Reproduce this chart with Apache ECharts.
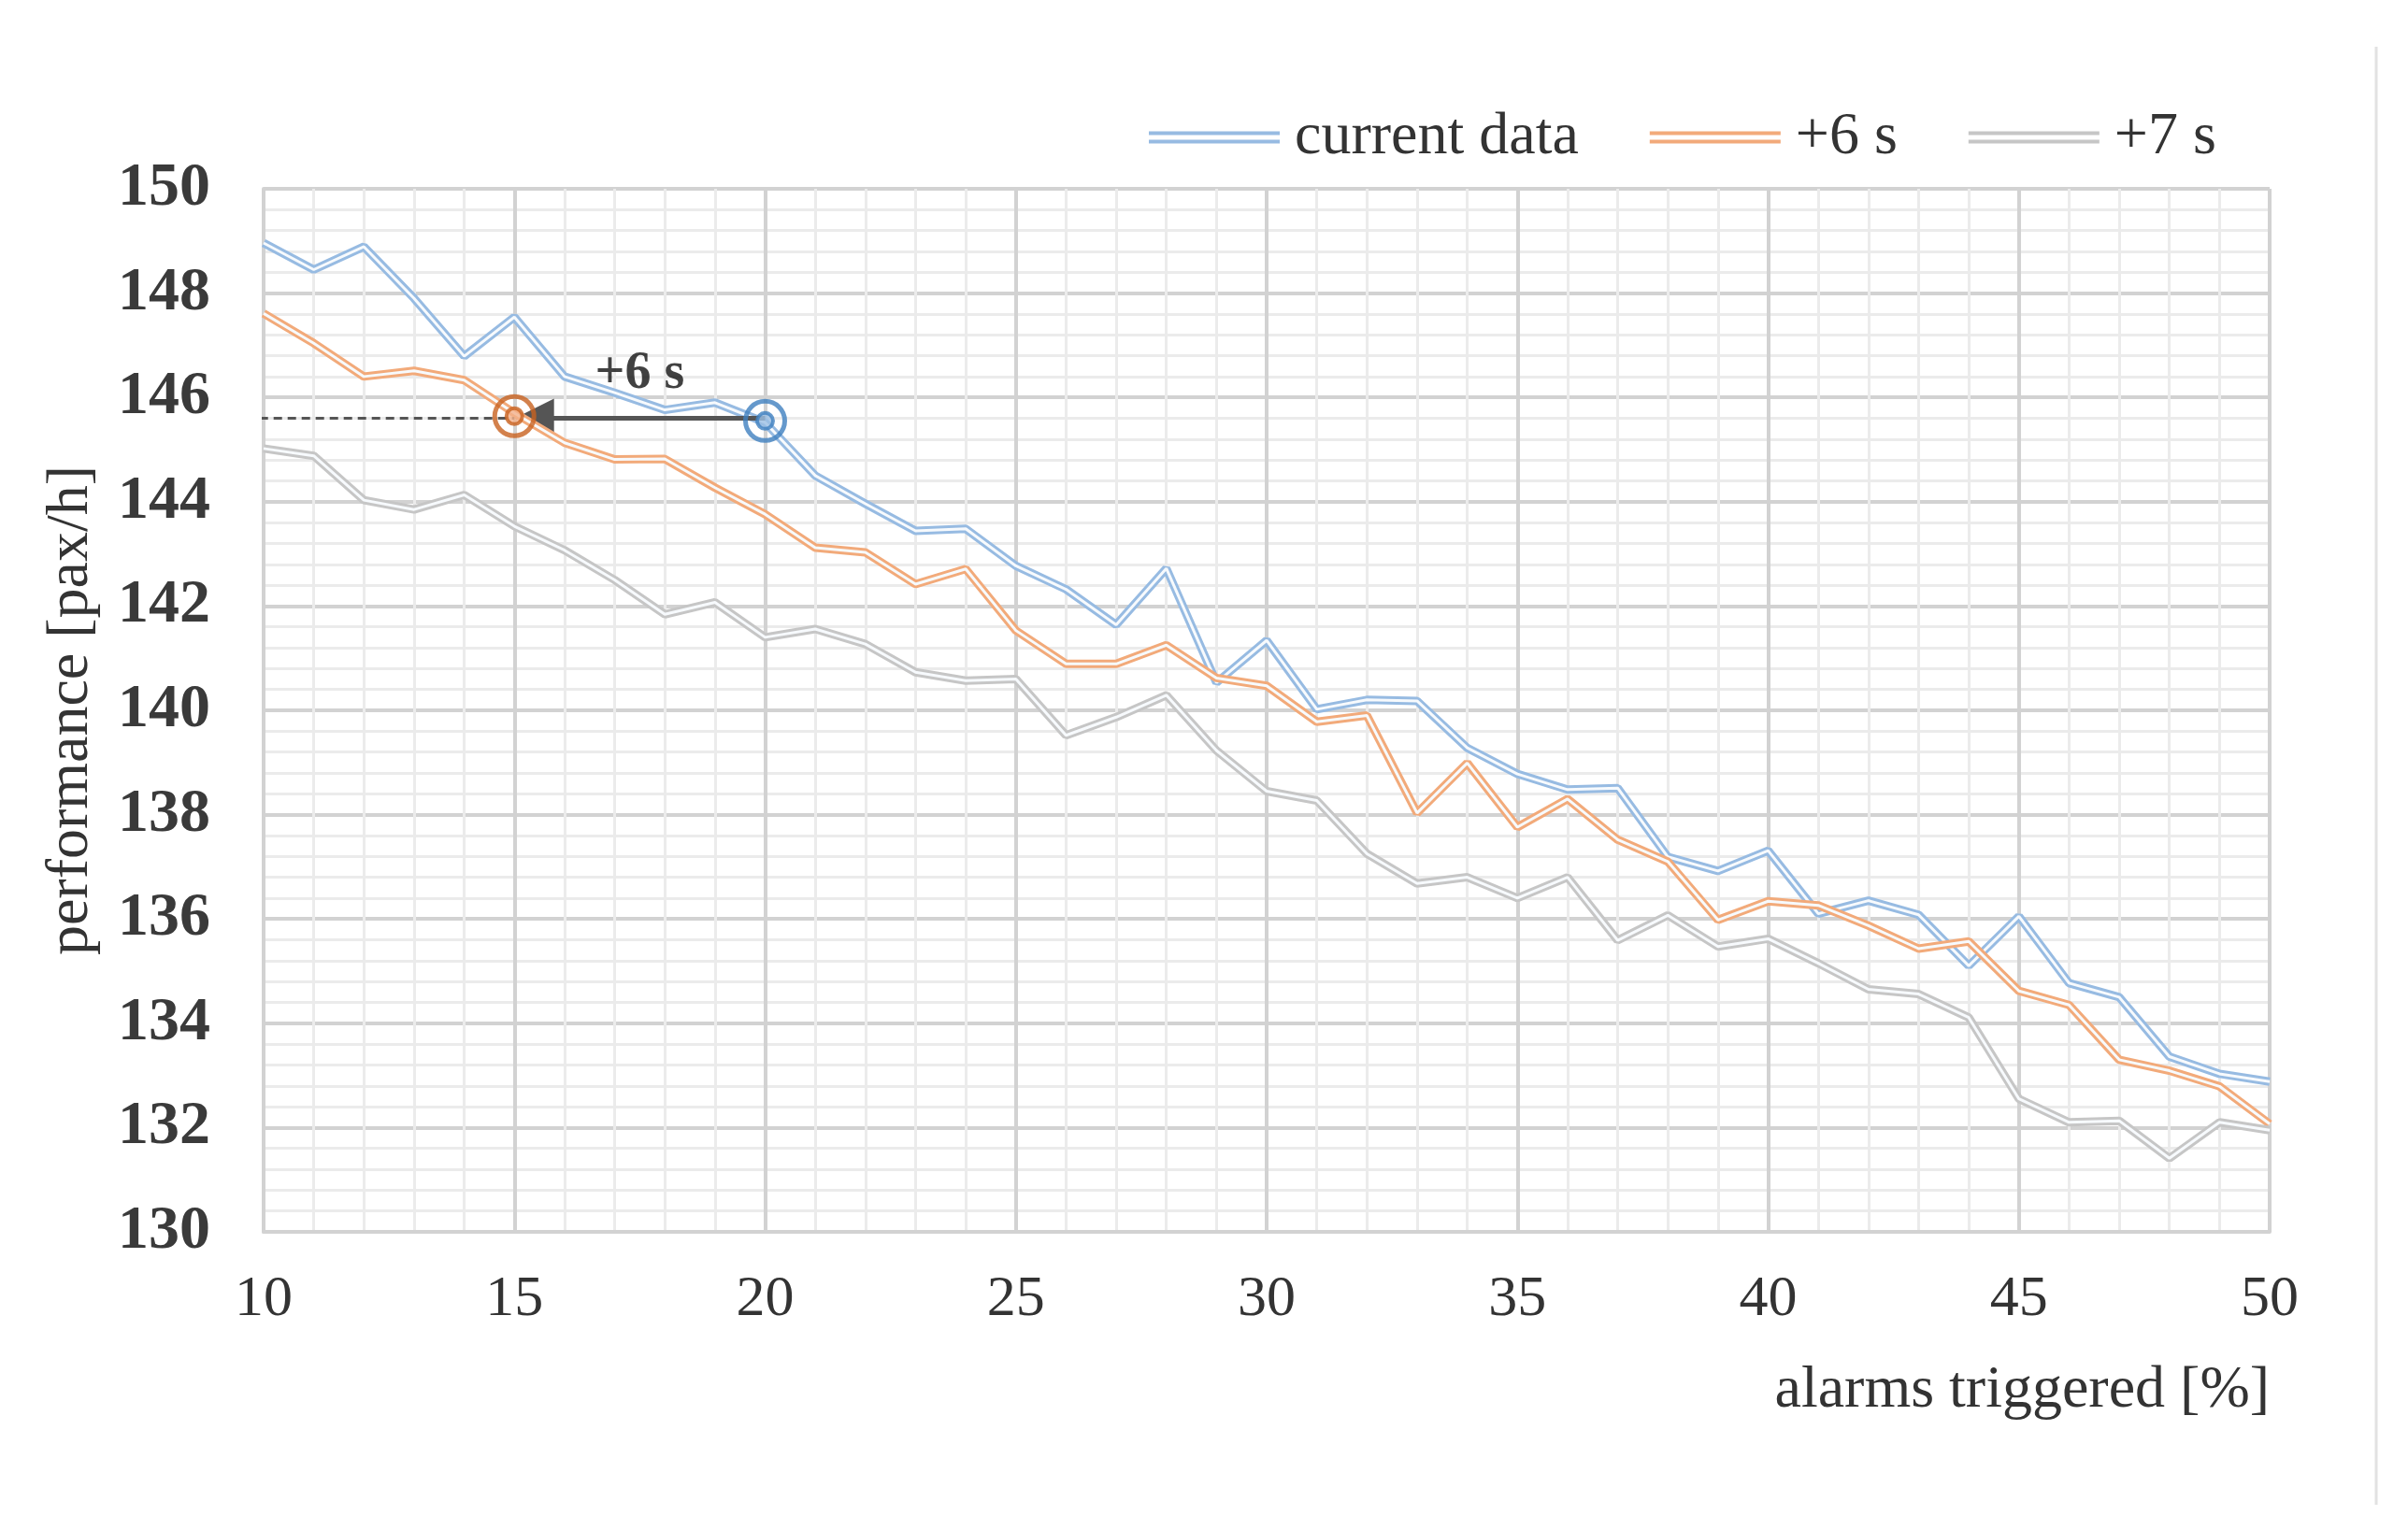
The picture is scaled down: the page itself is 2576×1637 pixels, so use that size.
<!DOCTYPE html>
<html><head><meta charset="utf-8">
<script src="https://cdn.jsdelivr.net/npm/echarts@6/dist/echarts.min.js"></script>
<style>html,body{margin:0;padding:0;background:#fff}#c{width:2576px;height:1637px}</style>
</head><body><div id="c"></div>
<script>
const alarms = [10,11,12,13,14,15,16,17,18,19,20,21,22,23,24,25,26,27,28,29,30,31,32,33,34,35,36,37,38,39,40,41,42,43,44,45,46,47,48,49,50];
const currentData = [148.96,148.45,148.89,147.9,146.79,147.54,146.40,146.09,145.76,145.90,145.52,144.50,143.96,143.44,143.48,142.77,142.32,141.64,142.72,140.53,141.34,140.02,140.20,140.18,139.28,138.78,138.48,138.51,137.19,136.92,137.31,136.10,136.35,136.08,135.10,136.05,134.77,134.50,133.36,133.03,132.88];
const plus6s = [147.61,147.04,146.40,146.51,146.33,145.70,145.13,144.81,144.82,144.27,143.76,143.12,143.03,142.42,142.71,141.53,140.89,140.89,141.25,140.62,140.47,139.78,139.90,138.03,138.99,137.76,138.30,137.52,137.10,135.98,136.34,136.26,135.87,135.43,135.57,134.62,134.35,133.30,133.09,132.79,132.07];
const plus7s = [145.02,144.88,144.03,143.85,144.13,143.53,143.07,142.50,141.84,142.07,141.40,141.56,141.27,140.73,140.57,140.60,139.52,139.87,140.29,139.23,138.45,138.27,137.25,136.68,136.80,136.40,136.80,135.59,136.07,135.47,135.62,135.15,134.65,134.56,134.11,132.55,132.10,132.13,131.41,132.10,131.95];
const seriesNames = ['current data', '+6 s', '+7 s'];
const yTicks = {min: 130, max: 150, step: 2};
const xTicks = {min: 10, max: 50, step: 5};
// annotation (data coordinates)
const shiftFrom = [20, 145.55];
const shiftTo = [15, 145.64];
const arrowLevel = 145.6;
const shiftLabel = '+6 s';
const shiftLabelAt = [17.5, 146.45];

const FONT = "'Liberation Serif','Times New Roman',serif";
const colors = ['#97BBE2', '#F2AA7A', '#C6C6C6'];
const values = [currentData, plus6s, plus7s];
const pairs = arr => alarms.map((x, i) => [x, arr[i]]);

const series = [];
values.forEach((arr, k) => {
  series.push({
    name: seriesNames[k], type: 'line', data: pairs(arr), symbol: 'none', z: 3 + k * 2,
    itemStyle: {color: colors[k]}, lineStyle: {color: colors[k], width: 9}, silent: true
  });
  series.push({
    name: seriesNames[k] + ' core', type: 'line', data: pairs(arr), symbol: 'none', z: 4 + k * 2,
    itemStyle: {color: '#ffffff'}, lineStyle: {color: '#F7FAFD', width: 3}, silent: true
  });
});
// dashed guide
series.push({
  name: 'guide', type: 'line', data: [[9.92, arrowLevel], [shiftTo[0], arrowLevel]], symbol: 'none', clip: false, z: 12,
  lineStyle: {color: '#555', width: 3, type: [9, 6]}, silent: true
});
// circles
series.push({
  name: 'rings', type: 'scatter', z: 13, silent: true,
  data: [
    {value: shiftTo, symbolSize: 42, itemStyle: {color: 'rgba(0,0,0,0)', borderColor: '#C8621F', borderWidth: 5}},
    {value: shiftFrom, symbolSize: 42, itemStyle: {color: 'rgba(0,0,0,0)', borderColor: '#3F7FBF', borderWidth: 5}},
    {value: shiftTo, symbolSize: 17, itemStyle: {color: '#F2B089', borderColor: '#C8621F', borderWidth: 4}},
    {value: shiftFrom, symbolSize: 17, itemStyle: {color: '#9CBFE3', borderColor: '#3F7FBF', borderWidth: 4}}
  ]
});
// arrow + label
series.push({
  name: 'arrow', type: 'scatter', z: 14, silent: true,
  data: [{value: shiftLabelAt, symbolSize: 0, label: {show: true, position: 'inside', formatter: shiftLabel,
    fontFamily: FONT, fontWeight: 'bold', fontSize: 56, color: '#111'}}],
  markLine: {
    silent: true, animation: false, symbol: ['none', 'triangle'], symbolSize: [42, 42],
    label: {show: false},
    lineStyle: {color: '#555', width: 5, type: 'solid'},
    data: [[{coord: [shiftFrom[0], arrowLevel]}, {coord: [shiftTo[0] + 0.4, arrowLevel]}]]
  }
});

const chart = echarts.init(document.getElementById('c'), null, {renderer: 'canvas'});
chart.setOption({
  animation: false,
  backgroundColor: '#fff',
  grid: {left: 282, right: 148, top: 202, bottom: 319, containLabel: false},
  legend: {
    data: seriesNames, left: 1224, top: 110, itemWidth: 140, itemHeight: 13, itemGap: 76,
    icon: 'path://M0,0H140V4H0Z M0,9H140V13H0Z',
    itemStyle: {borderWidth: 0},
    textStyle: {fontFamily: FONT, fontSize: 64, color: '#333', padding: [0, 0, 0, 11]}
  },
  xAxis: {
    type: 'value', min: xTicks.min, max: xTicks.max, interval: xTicks.step,
    name: 'alarms triggered [%]', nameLocation: 'end', nameGap: 0,
    nameTextStyle: {fontFamily: FONT, fontSize: 64, color: '#333', align: 'right', verticalAlign: 'top', padding: [138, 0, 0, 0]},
    axisLine: {show: true, lineStyle: {color: '#D2D2D2', width: 4}},
    axisTick: {show: false},
    axisLabel: {fontFamily: FONT, fontSize: 62, color: '#333', margin: 42},
    splitLine: {show: true, lineStyle: {color: '#D2D2D2', width: 4}},
    minorTick: {show: false, splitNumber: 5},
    minorSplitLine: {show: true, lineStyle: {color: '#EBEBEB', width: 3}}
  },
  yAxis: {
    type: 'value', min: yTicks.min, max: yTicks.max, interval: yTicks.step,
    name: 'performance [pax/h]', nameLocation: 'middle', nameGap: 174,
    nameTextStyle: {fontFamily: FONT, fontSize: 64, color: '#333'},
    axisLine: {show: true, lineStyle: {color: '#D2D2D2', width: 4}},
    axisTick: {show: false},
    axisLabel: {fontFamily: FONT, fontSize: 66, fontWeight: 'bold', color: '#3a3a3a', margin: 57},
    splitLine: {show: true, lineStyle: {color: '#D2D2D2', width: 4}},
    minorTick: {show: false, splitNumber: 5},
    minorSplitLine: {show: true, lineStyle: {color: '#EBEBEB', width: 3}}
  },
  graphic: [{type: 'line', shape: {x1: 2542, y1: 50, x2: 2542, y2: 1610}, style: {stroke: '#E2E2E2', lineWidth: 3}, silent: true}],
  series: series
});
</script></body></html>
